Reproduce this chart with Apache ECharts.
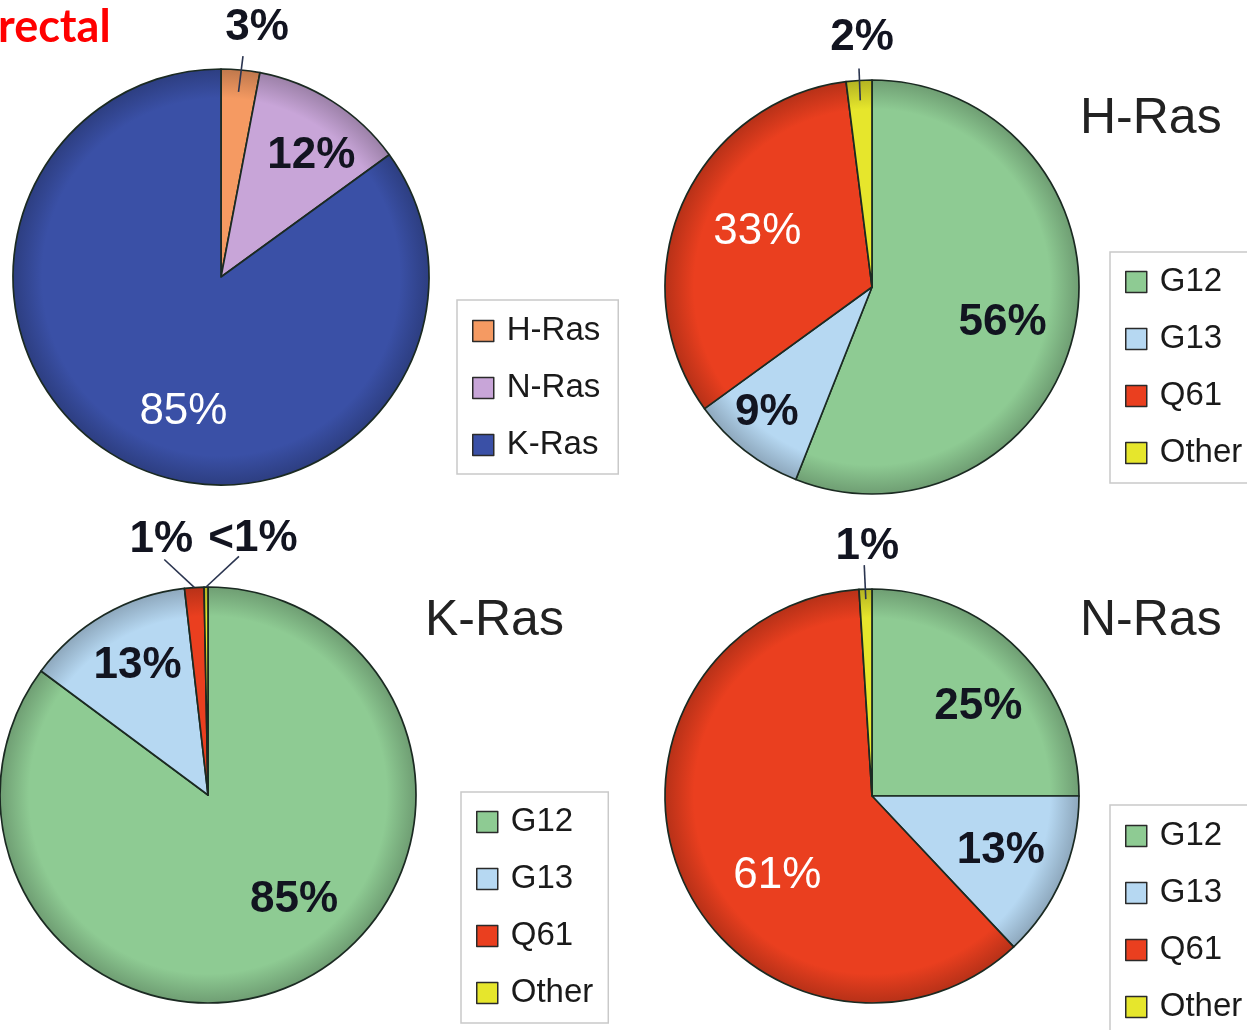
<!DOCTYPE html>
<html><head><meta charset="utf-8">
<script src="https://cdn.jsdelivr.net/npm/echarts@6/dist/echarts.min.js"></script>
<style>html,body{margin:0;padding:0;background:#fff}#c{width:1247px;height:1030px}</style>
</head><body><div id="c"></div><script>
// ---------- data ----------
const overallNames = ['H-Ras', 'N-Ras', 'K-Ras'];
const overallValues = [3, 12, 85];
const overallLabels = ['3%', '12%', '85%'];

const mutationNames = ['G12', 'G13', 'Q61', 'Other'];
const hrasValues = [56, 9, 33, 2];
const hrasLabels = ['56%', '9%', '33%', '2%'];
const krasValues = [85, 13, 1.5, 0.3];
const krasLabels = ['85%', '13%', '1%', '<1%'];
const nrasValues = [25, 13, 61, 1];
const nrasLabels = ['25%', '13%', '61%', '1%'];

const panelTitles = ['H-Ras', 'K-Ras', 'N-Ras'];
const cornerText = 'rectal';

// ---------- style ----------
const overallColors = ['#f59a62', '#c8a5d8', '#3a50a6'];
const mutationColors = ['#8ecb93', '#b6d8f2', '#ea3f1f', '#e6e62c'];
const FONT = 'Liberation Sans';

const pies = [
  { center: [221, 277], r: 208, names: overallNames, values: overallValues, labels: overallLabels, colors: overallColors,
    kinds: ['out', 'dark', 'light'], nudges: [null, [33, -31], [11, 40]],
    leaders: [{ inside: 22, outside: 14, lean: 10, dx: 14, gap: 28 }, null, null] },
  { center: [872, 287], r: 207, names: mutationNames, values: hrasValues, labels: hrasLabels, colors: mutationColors,
    kinds: ['dark', 'dark', 'light', 'out'], nudges: [[26, 16], [-40, 42], [-17, -13], null],
    leaders: [null, null, null, { inside: 20, outside: 12, lean: 0, dx: 3, gap: 31 }] },
  { center: [208, 795], r: 208, names: mutationNames, values: krasValues, labels: krasLabels, colors: mutationColors,
    kinds: ['dark', 'dark', 'out', 'out'], nudges: [[38, 9], [-17, -36], null, null],
    leaders: [null, null, { inside: 0, outside: 41, lean: -47, dx: -3, gap: 20 }, { inside: 0, outside: 45, lean: 47, dx: 14, gap: 17 }] },
  { center: [872, 796], r: 207, names: mutationNames, values: nrasValues, labels: nrasLabels, colors: mutationColors,
    kinds: ['dark', 'dark', 'light', 'out'], nudges: [[31, -14], [31, 13], [3, 38], null],
    leaders: [null, null, null, { inside: 10, outside: 24, lean: -3, dx: 3, gap: 18 }] }
];

function shade(hex, f) {
  const n = parseInt(hex.slice(1), 16);
  let r = (n >> 16) & 255, g = (n >> 8) & 255, b = n & 255;
  const m = c => Math.max(0, Math.min(255, Math.round(f < 1 ? c * f : c + (255 - c) * (f - 1))));
  return 'rgb(' + m(r) + ',' + m(g) + ',' + m(b) + ')';
}

function makeLayout(cfg) {
  return function (p) {
    const ld = cfg.leaders[p.dataIndex];
    if (!ld || !p.labelLinePoints) return {};
    const a = p.labelLinePoints[0], b = p.labelLinePoints[1];
    let ux = b[0] - a[0], uy = b[1] - a[1];
    const n = Math.hypot(ux, uy) || 1; ux /= n; uy /= n;
    const start = [a[0] - ux * ld.inside, a[1] - uy * ld.inside];
    const t = ld.lean * Math.PI / 180;
    const end = [a[0] + Math.sin(t) * ld.outside, a[1] - Math.cos(t) * ld.outside];
    return { x: end[0] + ld.dx, y: end[1] - ld.gap, align: 'center', verticalAlign: 'middle',
             labelLinePoints: [start, end, end] };
  };
}

const labelBase = { fontSize: 44, fontFamily: FONT, fontWeight: 'bold', color: '#121420' };

// main pies: filled slices + inside labels
const mainSeries = pies.map(cfg => ({
  type: 'pie', z: 2, center: cfg.center, radius: cfg.r, startAngle: 90, clockwise: true,
  avoidLabelOverlap: false, animation: false, silent: true,
  emphasis: { disabled: true, scale: false },
  itemStyle: { borderColor: '#1b2a22', borderWidth: 1.7 },
  label: Object.assign({ show: true, position: 'inside', formatter: p => cfg.labels[p.dataIndex] }, labelBase),
  labelLine: { show: false },
  data: cfg.values.map((v, i) => {
    const kind = cfg.kinds[i];
    const base = cfg.colors[i];
    return {
      name: cfg.names[i], value: v,
      itemStyle: { color: { type: 'radial', x: cfg.center[0], y: cfg.center[1], r: cfg.r, global: true,
        colorStops: [{ offset: 0, color: base }, { offset: 0.86, color: base }, { offset: 1, color: shade(base, 0.78) }] } },
      label: kind === 'out' ? { show: false } : {
        offset: cfg.nudges[i],
        color: kind === 'light' ? '#ffffff' : '#121420',
        fontWeight: kind === 'light' ? 'normal' : 'bold' }
    };
  })
}));

// overlay pies (transparent) carrying the outside labels and leader lines above the slices
const overlaySeries = pies.map(cfg => ({
  type: 'pie', z: 5, center: cfg.center, radius: cfg.r, startAngle: 90, clockwise: true,
  avoidLabelOverlap: false, animation: false, silent: true,
  emphasis: { disabled: true, scale: false },
  itemStyle: { color: 'rgba(0,0,0,0)', borderWidth: 0 },
  label: Object.assign({ show: false, position: 'outside', formatter: p => cfg.labels[p.dataIndex] }, labelBase),
  labelLine: { show: false },
  labelLayout: makeLayout(cfg),
  data: cfg.values.map((v, i) => {
    const out = cfg.kinds[i] === 'out';
    return {
      name: cfg.names[i], value: v,
      label: { show: out },
      labelLine: { show: out, length: 10, length2: 0, smooth: false, lineStyle: { color: '#2b3550', width: 1.6 } }
    };
  })
}));

function legendFor(names, colors, left, top, pad) {
  return {
    type: 'plain', orient: 'vertical', left: left, top: top, height: 400, selectedMode: false,
    backgroundColor: '#fff', borderColor: '#c9c9c9', borderWidth: 1.5, borderRadius: 0,
    padding: pad, itemWidth: 21, itemHeight: 21, itemGap: 21, icon: 'rect',
    textStyle: { fontSize: 33, fontFamily: FONT, color: '#1a1a1a', lineHeight: 36, padding: [0, 0, 0, 8] },
    data: names.map((n, i) => ({ name: n, itemStyle: { color: colors[i], borderColor: '#2a2a2a', borderWidth: 1.5 } }))
  };
}

const titleStyle = { fontSize: 50, fontFamily: FONT, fontWeight: 'normal', color: '#222' };
const option = {
  backgroundColor: '#fff',
  title: [
    { text: cornerText, left: -2, top: 5, padding: 0, textStyle: { fontSize: 45, fontFamily: 'Lato', fontWeight: 'bold', color: '#ff0000' } },
    { text: panelTitles[0], left: 1080, top: 94, padding: 0, textStyle: titleStyle },
    { text: panelTitles[1], left: 425, top: 596, padding: 0, textStyle: titleStyle },
    { text: panelTitles[2], left: 1080, top: 596, padding: 0, textStyle: titleStyle }
  ],
  legend: [
    legendFor(overallNames, overallColors, 457, 300, [13, 18, 11, 15]),
    legendFor(mutationNames, mutationColors, 1110, 252, [12, 15, 12, 15]),
    legendFor(mutationNames, mutationColors, 461, 792, [12, 15, 12, 15]),
    legendFor(mutationNames, mutationColors, 1110, 805, [13, 15, 13, 15])
  ],
  series: mainSeries.concat(overlaySeries)
};

const chart = echarts.init(document.getElementById('c'), null, { renderer: 'canvas' });
chart.setOption(option);
</script></body></html>
